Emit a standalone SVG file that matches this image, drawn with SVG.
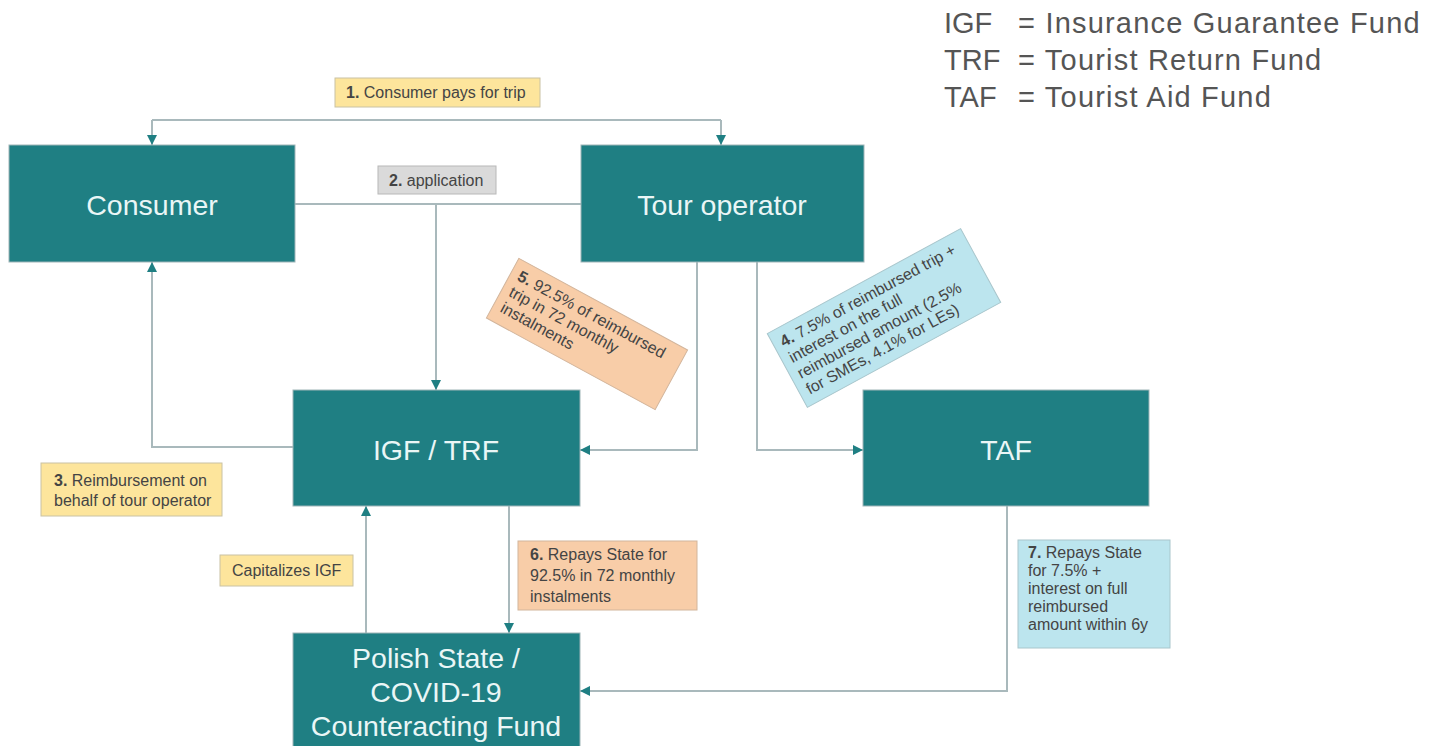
<svg xmlns="http://www.w3.org/2000/svg" width="1429" height="746" viewBox="0 0 1429 746">
<defs>
<marker id="arr" viewBox="0 0 10 10" refX="10" refY="5" markerWidth="10" markerHeight="10" markerUnits="userSpaceOnUse" orient="auto">
<path d="M0,0 L10,5 L0,10 Z" fill="#1F7F83"/>
</marker>
<style>
.node{fill:#1F7F83;stroke:#9FB5B8;stroke-width:1}
.nt{font-family:"Liberation Sans",Arial,sans-serif;font-size:28.5px;fill:#EAF6F6;text-anchor:middle}
.conn{fill:none;stroke:#A9B9BC;stroke-width:2}
.lbl{font-family:"Liberation Sans",Arial,sans-serif;font-size:16px;fill:#444}
.lbl tspan.b{font-weight:bold}
.yel{fill:#FDE59C;stroke:#C9C2A4;stroke-width:1}
.gry{fill:#DADADA;stroke:#B8B8B8;stroke-width:1}
.pch{fill:#F8CDA8;stroke:#D2B59C;stroke-width:1}
.blu{fill:#BCE5EE;stroke:#A9C6CC;stroke-width:1}
.leg{font-family:"Liberation Sans",Arial,sans-serif;font-size:29px;fill:#555}
.legd{letter-spacing:1.2px}
</style>
</defs>
<rect width="1429" height="746" fill="#FFFFFF"/>

<g id="connectors">
<path class="conn" d="M152,120 H721" />
<path class="conn" d="M152,120 V145" marker-end="url(#arr)"/>
<path class="conn" d="M721,120 V145" marker-end="url(#arr)"/>
<path class="conn" d="M295,204 H581"/>
<path class="conn" d="M436,204 V390" marker-end="url(#arr)"/>
<path class="conn" d="M293,447 H152 V262" marker-end="url(#arr)"/>
<path class="conn" d="M697,262 V450 H580" marker-end="url(#arr)"/>
<path class="conn" d="M757,262 V450 H863" marker-end="url(#arr)"/>
<path class="conn" d="M509,506 V633" marker-end="url(#arr)"/>
<path class="conn" d="M366,633 V506" marker-end="url(#arr)"/>
<path class="conn" d="M1007,506 V691 H580" marker-end="url(#arr)"/>
</g>

<g id="consumer">
<rect class="node" x="9" y="145" width="286" height="117"/>
<text class="nt" x="152" y="215">Consumer</text>
</g>
<g id="tour-operator">
<rect class="node" x="581" y="145" width="283" height="117"/>
<text class="nt" x="722" y="215">Tour operator</text>
</g>
<g id="igf-trf">
<rect class="node" x="293" y="390" width="287" height="116"/>
<text class="nt" x="436" y="460">IGF / TRF</text>
</g>
<g id="taf">
<rect class="node" x="863" y="390" width="286" height="116"/>
<text class="nt" x="1006" y="460">TAF</text>
</g>
<g id="polish-state">
<rect class="node" x="293" y="633" width="287" height="120"/>
<text class="nt" x="436" y="668">Polish State /</text>
<text class="nt" x="436" y="702">COVID-19</text>
<text class="nt" x="436" y="736">Counteracting Fund</text>
</g>

<g id="label1">
<rect class="yel" x="335" y="78" width="205" height="29"/>
<text class="lbl" x="346" y="98"><tspan class="b">1.</tspan> Consumer pays for trip</text>
</g>
<g id="label2">
<rect class="gry" x="378" y="166" width="118" height="28"/>
<text class="lbl" x="389" y="186"><tspan class="b">2.</tspan> application</text>
</g>
<g id="label3">
<rect class="yel" x="41" y="463" width="181" height="53"/>
<text class="lbl" x="54" y="486"><tspan class="b">3.</tspan> Reimbursement on</text>
<text class="lbl" x="54" y="506">behalf of tour operator</text>
</g>
<g id="label-capitalizes">
<rect class="yel" x="220" y="555" width="133" height="31"/>
<text class="lbl" x="232" y="576">Capitalizes IGF</text>
</g>
<g id="label6">
<rect class="pch" x="518" y="541" width="179" height="69"/>
<text class="lbl" x="530" y="560"><tspan class="b">6.</tspan> Repays State for</text>
<text class="lbl" x="530" y="581">92.5% in 72 monthly</text>
<text class="lbl" x="530" y="602">instalments</text>
</g>
<g id="label7">
<rect class="blu" x="1018" y="540" width="152" height="108"/>
<text class="lbl" x="1028" y="558"><tspan class="b">7.</tspan> Repays State</text>
<text class="lbl" x="1028" y="576">for 7.5% +</text>
<text class="lbl" x="1028" y="594">interest on full</text>
<text class="lbl" x="1028" y="612">reimbursed</text>
<text class="lbl" x="1028" y="630">amount within 6y</text>
</g>
<g id="label5" transform="translate(587,334) rotate(28.5)">
<rect class="pch" x="-96" y="-34" width="192" height="68"/>
<text class="lbl" x="-88" y="-14"><tspan class="b">5.</tspan> 92.5% of reimbursed</text>
<text class="lbl" x="-88" y="4">trip in 72 monthly</text>
<text class="lbl" x="-88" y="22">instalments</text>
</g>
<g id="label4" transform="translate(884,318) rotate(-28.5)">
<rect class="blu" x="-110" y="-42" width="220" height="84"/>
<text class="lbl" x="-102" y="-22"><tspan class="b">4.</tspan> 7.5% of reimbursed trip +</text>
<text class="lbl" x="-102" y="-4">interest on the full</text>
<text class="lbl" x="-102" y="14">reimbursed amount (2.5%</text>
<text class="lbl" x="-102" y="32">for SMEs, 4.1% for LEs)</text>
</g>

<g id="legend">
<text class="leg" x="944" y="33">IGF</text>
<text class="leg legd" x="1018" y="33">= Insurance Guarantee Fund</text>
<text class="leg" x="944" y="70">TRF</text>
<text class="leg legd" x="1018" y="70">= Tourist Return Fund</text>
<text class="leg" x="944" y="107">TAF</text>
<text class="leg legd" x="1018" y="107">= Tourist Aid Fund</text>
</g>
</svg>
